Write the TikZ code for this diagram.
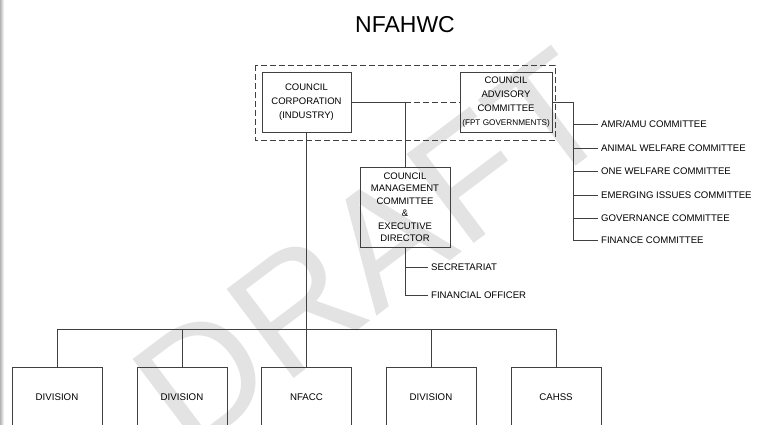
\documentclass[tikz,border=0pt]{standalone}
\usepackage{fontspec}
\setmainfont{Liberation Sans}
\usetikzlibrary{calc}

\begin{document}
\begin{tikzpicture}[x=1pt,y=-1pt,
        line/.style={draw=black!75,line width=0.6pt},
        grouped/.style={line,dash pattern=on 6pt off 3pt},
        orgbox/.style={line,align=center,inner sep=0pt,text=black,font=\fontsize{9.5}{14}\selectfont},
        lowbox/.style={orgbox,minimum width=90,minimum height=60,font=\fontsize{9.7}{12}\selectfont},
        listtext/.style={anchor=west,inner sep=3pt,text height=7pt,text depth=0pt,text=black,font=\fontsize{9.6}{11}\selectfont}]
        \useasboundingbox (0,0) rectangle (758,424);
        \clip (0,0) rectangle (758,424);
        \shade[left color=black!30,right color=white](0,0) rectangle (4,424);
        \node[rotate=37,text=black!11,font=\fontsize{162}{162}\selectfont] (draft) at (372,250) {DRAFT};
        \node[text=black,font=\fontsize{23}{23}\selectfont] (title) at (405,25) {NFAHWC};

        \node[orgbox,minimum width=89,minimum height=60] (corp) at (306.5,102) {COUNCIL\\CORPORATION\\(INDUSTRY)};
        \node[orgbox,minimum width=92,minimum height=60] (advis) at (506,102) {COUNCIL\\ADVISORY\\COMMITTEE\\{\fontsize{8.2}{14}\selectfont (FPT GOVERNMENTS)}};
        \draw[grouped](255,65) rectangle (555,140);
        \node[orgbox,minimum width=90,minimum height=80,font=\fontsize{9.5}{12.5}\selectfont] (mgmt) at (405,207) {COUNCIL\\MANAGEMENT\\COMMITTEE\\\&\\EXECUTIVE\\DIRECTOR};

        \coordinate (jn) at (405,102);
        \draw[line](corp.east)--(jn);
        \draw[grouped](jn)--(advis.west);
        \draw[line](jn)--(mgmt.north);

        \node[listtext] (secr) at (428,267) {SECRETARIAT};
        \node[listtext] (finoff) at (428,295) {FINANCIAL OFFICER};
        \draw[line](mgmt.south)--(mgmt.south |- finoff.west)--(finoff.west);
        \draw[line](mgmt.south |- secr.west)--(secr.west);

        \coordinate (cmt) at (573,102);
        \node[listtext] (amr) at (598,124) {AMR/AMU COMMITTEE};
        \node[listtext] (anim) at (598,148) {ANIMAL WELFARE COMMITTEE};
        \node[listtext] (onew) at (598,171) {ONE WELFARE COMMITTEE};
        \node[listtext] (emerg) at (598,195) {EMERGING ISSUES COMMITTEE};
        \node[listtext] (gov) at (598,218) {GOVERNANCE COMMITTEE};
        \node[listtext] (fin) at (598,240) {FINANCE COMMITTEE};
        \draw[line](advis.east)--(cmt)--(cmt |- fin.west)--(fin.west);
        \draw[line](cmt |- amr.west)--(amr.west);
        \draw[line](cmt |- anim.west)--(anim.west);
        \draw[line](cmt |- onew.west)--(onew.west);
        \draw[line](cmt |- emerg.west)--(emerg.west);
        \draw[line](cmt |- gov.west)--(gov.west);

        \node[lowbox] (div1) at (57,397) {DIVISION};
        \node[lowbox] (div2) at (182,397) {DIVISION};
        \node[lowbox] (nfacc) at (306.5,397) {NFACC};
        \node[lowbox] (div3) at (431,397) {DIVISION};
        \node[lowbox] (cahss) at (556,397) {CAHSS};
        \coordinate (busL) at (57,329);
        \coordinate (busR) at (556,329);
        \draw[line](corp.south)--(nfacc.north);
        \draw[line](div1.north)--(busL)--(busR)--(cahss.north);
        \draw[line](div2.north)--(div2.north |- busL);
        \draw[line](div3.north)--(div3.north |- busL);
    \end{tikzpicture}
\end{document}
